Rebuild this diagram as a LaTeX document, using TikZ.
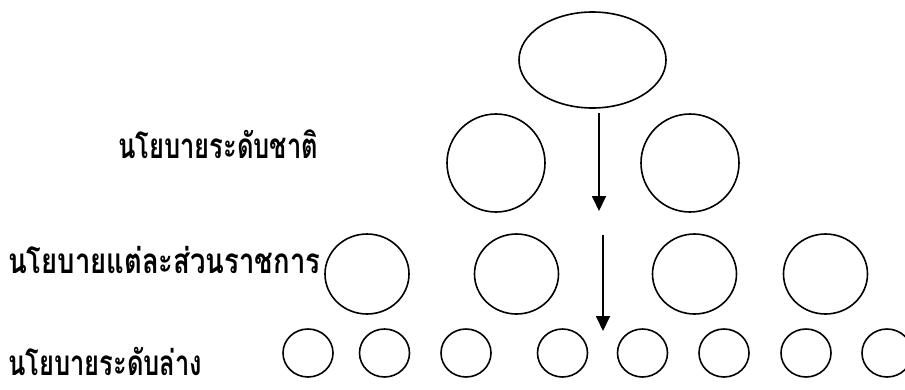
\documentclass[tikz,border=0pt]{standalone}
\usepackage{fontspec}
\usepackage{graphicx}
\newfontfamily\thaifont[Script=Thai]{Loma}
\usetikzlibrary{shapes.geometric,arrows.meta}
\tikzset{
  ell/.style={draw, ellipse, line width=1.6pt, inner sep=0pt},
  big/.style={ell, minimum width=98pt, minimum height=98pt},
  mid/.style={ell, minimum width=84pt, minimum height=80pt},
  small/.style={ell, minimum width=50pt, minimum height=48pt},
  arr/.style={line width=1.8pt, -{Triangle[length=15pt,width=14pt]}},
  lbl/.style={anchor=base west, inner sep=0pt, font=\thaifont\bfseries\fontsize{35}{40}\selectfont}
}
\newcommand{\thlabel}[2]{\raisebox{0pt}[\height][0pt]{\resizebox{#1}{\height}{#2}}}
\begin{document}
\begin{tikzpicture}[x=1pt,y=-1pt]
\useasboundingbox (0,0) rectangle (905,389);
% top
\node[ell, minimum width=147pt, minimum height=96pt] (top) at (592.5,60) {};
% row 1
\node[big] (r1a) at (496,163) {};
\node[big] (r1b) at (690,163) {};
% row 2
\node[mid] (r2a) at (367,274) {};
\node[mid] (r2b) at (516.5,274) {};
\node[mid] (r2c) at (694.5,274) {};
\node[mid] (r2d) at (825.5,274) {};
% row 3
\foreach \i/\x in {1/308,2/384.5,3/466,4/562.5,5/642.5,6/724,7/806,8/887}
  \node[small] (r3\i) at (\x,353) {};
% arrows
\coordinate (a1s) at (599,113);
\coordinate (a1e) at (599,211);
\coordinate (a2s) at (603,235);
\coordinate (a2e) at (603,331);
\draw[arr] (a1s) -- (a1e);
\draw[arr] (a2s) -- (a2e);
% labels
\node[lbl] (t1) at (118,158) {\thlabel{200pt}{นโยบายระดับชาติ}};
\node[lbl] (t2) at (8,273) {\thlabel{312pt}{นโยบายแต่ละส่วนราชการ}};
\node[lbl] (t3) at (8,375) {\thlabel{194pt}{นโยบายระดับล่าง}};
\end{tikzpicture}
\end{document}
